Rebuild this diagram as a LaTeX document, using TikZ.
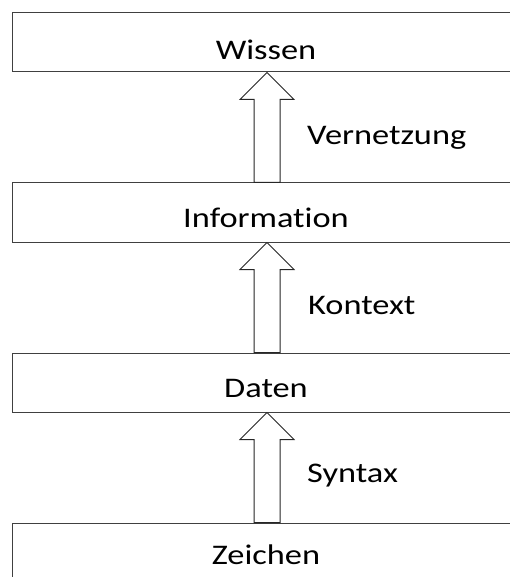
\documentclass[tikz,border=0pt]{standalone}
\usepackage{fontspec}
\setmainfont{Carlito}[FakeStretch=1.21,Ligatures={NoCommon}]
\usetikzlibrary{calc}
\begin{document}
\begin{tikzpicture}[x=1pt,y=-1pt,
  box/.style={draw=black!75, line width=1pt, minimum width=508pt, minimum height=59pt,
    inner sep=0pt, text depth=0pt, font=\fontsize{28.4}{30}\selectfont},
  lbl/.style={anchor=base west, inner sep=0pt, font=\fontsize{28.4}{30}\selectfont},
  blockarrow/.style={draw=black!85, line width=1pt, fill=white, line join=miter}]
\useasboundingbox (0,0) rectangle (510,577);
\clip (0,0) rectangle (510,577);
\node[box, text height=35pt] (wissen) at (266,42.5) {Wissen};
\node[box, text height=29pt] (info) at (266,212.5) {Information};
\node[box, text height=29pt] (daten) at (266,382.5) {Daten};
\node[box, text height=23pt] (zeichen) at (266,552.5) {Zeichen};
\coordinate (ax) at (267,0);
\draw[blockarrow] (ax |- wissen.south) -- ++(27,27) -- ++(-14,0)
  -- ($(ax |- info.north)+(13,0)$) -- ($(ax |- info.north)+(-13,0)$)
  -- ($(ax |- wissen.south)+(-13,27)$) -- ++(-14,0) -- cycle;
\draw[blockarrow] (ax |- info.south) -- ++(27,27) -- ++(-14,0)
  -- ($(ax |- daten.north)+(13,0)$) -- ($(ax |- daten.north)+(-13,0)$)
  -- ($(ax |- info.south)+(-13,27)$) -- ++(-14,0) -- cycle;
\draw[blockarrow] (ax |- daten.south) -- ++(27,27) -- ++(-14,0)
  -- ($(ax |- zeichen.north)+(13,0)$) -- ($(ax |- zeichen.north)+(-13,0)$)
  -- ($(ax |- daten.south)+(-13,27)$) -- ++(-14,0) -- cycle;
\node[lbl] (vernetzung) at (307,145) {Vernetzung};
\node[lbl] (kontext) at (308,314) {Kontext};
\node[lbl] (syntax) at (307,482) {Syntax};
\end{tikzpicture}
\end{document}
